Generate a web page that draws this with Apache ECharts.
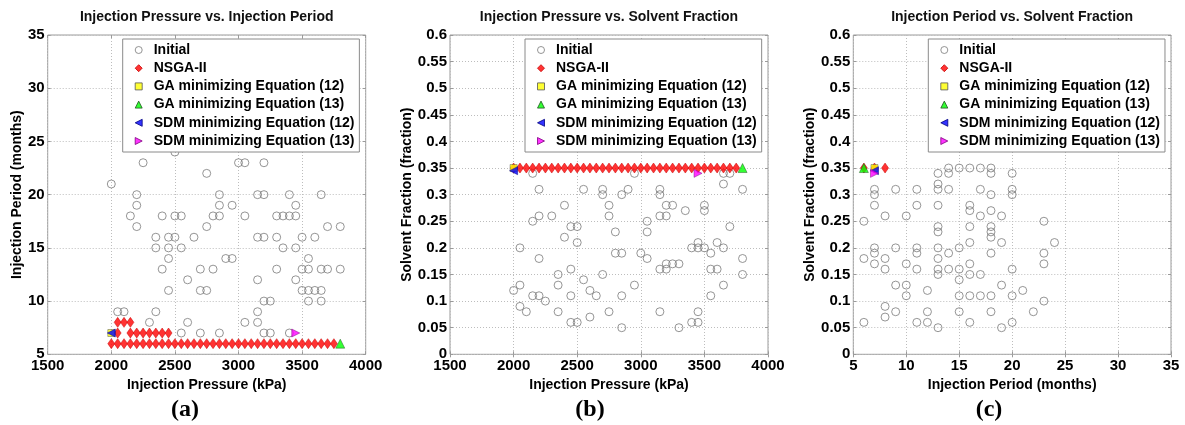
<!DOCTYPE html>
<html>
<head>
<meta charset="utf-8">
<script src="https://cdn.jsdelivr.net/npm/echarts@6/dist/echarts.min.js"></script>
<style>
html,body{margin:0;padding:0;background:#fff;}
#chart{width:1185px;height:425px;}
</style>
</head>
<body>
<div id="chart"></div>
<script>
// ---------- data ----------
var seriesNames = ['Initial', 'NSGA-II', 'GA minimizing Equation (12)', 'GA minimizing Equation (13)', 'SDM minimizing Equation (12)', 'SDM minimizing Equation (13)'];
var panelTitles = ['Injection Pressure vs. Injection Period', 'Injection Pressure vs. Solvent Fraction', 'Injection Period vs. Solvent Fraction'];
var xNames = ['Injection Pressure (kPa)', 'Injection Pressure (kPa)', 'Injection Period (months)'];
var yNames = ['Injection Period (months)', 'Solvent Fraction (fraction)', 'Solvent Fraction (fraction)'];
var captions = ['(a)', '(b)', '(c)'];

// Panel (a): [pressure, period]
var initialA = [
  [2000,21],[2250,23],[2500,24],[2200,20],[2750,22],[2850,20],[3000,23],[3050,23],[3150,20],[3200,20],[3200,23],[3400,20],[3650,20],
  [2200,19],[2850,19],[2950,19],[3450,19],
  [2150,18],[2400,18],[2500,18],[2550,18],[2800,18],[2850,18],[3050,18],[3300,18],[3350,18],[3400,18],[3450,18],
  [2200,17],[2750,17],[3700,17],[3800,17],
  [2350,16],[2450,16],[2500,16],[2650,16],[3150,16],[3200,16],[3300,16],[3500,16],[3600,16],
  [2350,15],[2450,15],[2550,15],[3350,15],[3450,15],
  [2450,14],[2900,14],[2950,14],[3550,14],
  [2400,13],[2700,13],[2800,13],[3300,13],[3500,13],[3550,13],[3650,13],[3700,13],[3800,13],
  [2600,12],[3150,12],[3450,12],
  [2450,11],[2700,11],[2750,11],[3500,11],[3550,11],[3600,11],[3650,11],
  [3200,10],[3250,10],[3550,10],[3650,10],
  [2050,9],[2100,9],[2350,9],[3150,9],
  [2300,8],[2600,8],[3050,8],[3150,8],
  [2550,7],[2700,7],[2850,7],[3200,7],[3250,7],[3400,7]
];
var nsgaA = [
  [2050,8],[2100,8],[2150,8],
  [2050,7],[2150,7],[2200,7],[2250,7],[2300,7],[2350,7],[2400,7],[2450,7],
  [2000,6],[2050,6],[2100,6],[2150,6],[2200,6],[2250,6],[2300,6],[2350,6],[2400,6],[2450,6],
  [2500,6],[2550,6],[2600,6],[2650,6],[2700,6],[2750,6],[2800,6],[2850,6],[2900,6],[2950,6],
  [3000,6],[3050,6],[3100,6],[3150,6],[3200,6],[3250,6],[3300,6],[3350,6],[3400,6],[3450,6],
  [3500,6],[3550,6],[3600,6],[3650,6],[3700,6],[3750,6]
];
var ga12A = [[2000,7]];
var ga13A = [[3800,6]];
var sdm12A = [[2000,7]];
var sdm13A = [[3450,7]];

// Panel (b): [pressure, solvent fraction]
var initialB = [
  [2150,0.34],[2200,0.31],[2550,0.31],[2700,0.31],[2700,0.30],[2850,0.30],[2900,0.31],[2950,0.34],[3150,0.31],[3150,0.30],
  [3650,0.34],[3700,0.34],[3650,0.32],[3800,0.31],
  [2400,0.28],[2750,0.28],[3200,0.28],[3250,0.28],[3500,0.28],
  [3350,0.27],[3500,0.27],
  [2200,0.26],[2300,0.26],[2750,0.26],[3150,0.26],[3200,0.26],
  [2150,0.25],[3050,0.25],
  [2450,0.24],[2500,0.24],[3700,0.24],
  [2800,0.23],[3050,0.23],
  [2400,0.22],
  [2500,0.21],[3450,0.21],[3600,0.21],
  [2050,0.20],[3400,0.20],[3450,0.20],[3500,0.20],[3650,0.20],
  [2800,0.19],[2850,0.19],[3000,0.19],[3550,0.19],
  [2200,0.18],[3050,0.18],[3800,0.18],
  [3200,0.17],[3250,0.17],[3300,0.17],
  [2450,0.16],[3150,0.16],[3200,0.16],[3550,0.16],[3600,0.16],
  [2350,0.15],[2700,0.15],[3800,0.15],
  [2550,0.14],
  [2050,0.13],[2350,0.13],[2950,0.13],[3650,0.13],
  [2000,0.12],[2600,0.12],
  [2150,0.11],[2200,0.11],[2450,0.11],[2650,0.11],[2850,0.11],[3550,0.11],
  [2250,0.10],
  [2050,0.09],
  [2100,0.08],[2350,0.08],[2750,0.08],[3150,0.08],[3450,0.08],
  [2600,0.07],
  [2450,0.06],[2500,0.06],[3400,0.06],[3450,0.06],
  [2850,0.05],[3300,0.05]
];
var nsgaB = [
  [2000,0.35],[2050,0.35],[2100,0.35],[2150,0.35],[2200,0.35],[2250,0.35],[2300,0.35],[2350,0.35],[2400,0.35],[2450,0.35],
  [2500,0.35],[2550,0.35],[2600,0.35],[2650,0.35],[2700,0.35],[2750,0.35],[2800,0.35],[2850,0.35],[2900,0.35],[2950,0.35],
  [3000,0.35],[3050,0.35],[3100,0.35],[3150,0.35],[3200,0.35],[3250,0.35],[3300,0.35],[3350,0.35],[3400,0.35],[3450,0.35],
  [3500,0.35],[3550,0.35],[3600,0.35],[3650,0.35],[3700,0.35],[3750,0.35]
];
var ga12B = [[2000,0.35]];
var ga13B = [[3800,0.35]];
var sdm12B = [[2000,0.345]];
var sdm13B = [[3450,0.34]];

// Panel (c): [period, solvent fraction]
var initialC = [
  [13,0.34],[14,0.35],[14,0.34],[15,0.35],[16,0.35],[17,0.35],[18,0.35],[18,0.34],[20,0.34],[13,0.32],
  [13,0.31],[14,0.31],[7,0.31],[7,0.30],[9,0.31],[11,0.31],[17,0.31],[18,0.30],[20,0.31],[20,0.30],
  [7,0.28],[11,0.28],[13,0.28],[16,0.28],
  [16,0.27],[18,0.27],
  [8,0.26],[10,0.26],[17,0.26],[19,0.26],
  [6,0.25],[23,0.25],
  [13,0.24],[16,0.24],[18,0.24],
  [13,0.23],[18,0.23],
  [18,0.22],
  [16,0.21],[19,0.21],[24,0.21],
  [7,0.20],[9,0.20],[11,0.20],[13,0.20],[15,0.20],
  [7,0.19],[11,0.19],[14,0.19],[18,0.19],[23,0.19],
  [6,0.18],[8,0.18],[13,0.18],
  [7,0.17],[10,0.17],[16,0.17],[23,0.17],
  [8,0.16],[11,0.16],[13,0.16],[14,0.16],[15,0.16],[20,0.16],
  [13,0.15],[16,0.15],[17,0.15],
  [15,0.14],
  [9,0.13],[10,0.13],[19,0.13],
  [12,0.12],[21,0.12],
  [10,0.11],[15,0.11],[16,0.11],[17,0.11],[18,0.11],[20,0.11],
  [23,0.10],
  [8,0.09],
  [9,0.08],[12,0.08],[15,0.08],[18,0.08],[22,0.08],
  [8,0.07],
  [6,0.06],[11,0.06],[12,0.06],[16,0.06],[20,0.06],
  [13,0.05],[19,0.05]
];
var nsgaC = [[6,0.35],[7,0.35],[8,0.35]];
var ga12C = [[7,0.35]];
var ga13C = [[6,0.35]];
var sdm12C = [[7,0.345]];
var sdm13C = [[7,0.34]];

var xTicksAB = {min:1500, max:4000, interval:500};
var xTicksC = {min:5, max:35, interval:5};
var yTicksA = {min:5, max:35, interval:5};
var yTicksBC = {min:0, max:0.6, interval:0.05};

// ---------- layout/styling ----------
var FONT = 'Liberation Sans, Arial, sans-serif';
var grids = [
  {left:47.7, top:35, width:318, height:319.3},
  {left:450, top:35, width:318, height:319.3},
  {left:853.3, top:35, width:317.7, height:319.3}
];
var legendLeft = [122.7, 525, 928.3];
var yNameGap = [23, 34, 35];
var captionX = [185, 590, 989];
var xTicks = [xTicksAB, xTicksAB, xTicksC];
var yTicks = [yTicksA, yTicksBC, yTicksBC];
var panelData = [
  [initialA, nsgaA, ga12A, ga13A, sdm12A, sdm13A],
  [initialB, nsgaB, ga12B, ga13B, sdm12B, sdm13B],
  [initialC, nsgaC, ga12C, ga13C, sdm12C, sdm13C]
];
var seriesStyle = [
  {symbol:'circle', symbolSize:8, symbolRotate:0, itemStyle:{color:'rgba(0,0,0,0)', borderColor:'#7a7a7a', borderWidth:1}},
  {symbol:'diamond', symbolSize:[7,10], symbolRotate:0, itemStyle:{color:'#ff0000', borderColor:'#c80000', borderWidth:0.6}},
  {symbol:'rect', symbolSize:7, symbolRotate:0, itemStyle:{color:'#ffff00', borderColor:'#555', borderWidth:0.6}},
  {symbol:'triangle', symbolSize:9, symbolRotate:0, itemStyle:{color:'#00ff00', borderColor:'#225522', borderWidth:0.6}},
  {symbol:'triangle', symbolSize:8, symbolRotate:90, itemStyle:{color:'#0000ff', borderColor:'#000080', borderWidth:0.6}},
  {symbol:'triangle', symbolSize:8, symbolRotate:-90, itemStyle:{color:'#ff00ff', borderColor:'#800080', borderWidth:0.6}}
];
// legend icons (left / right pointing triangles drawn as paths)
var legendIcons = [null, null, null, null, 'path://M10,0 L10,10 L0,5 Z', 'path://M0,0 L10,5 L0,10 Z'];
function plainNum(v) { return String(v); }

var option = {
  animation: false,
  backgroundColor: '#fff',
  title: [], grid: [], xAxis: [], yAxis: [], legend: [], series: [],
  graphic: []
};

for (var p = 0; p < 3; p++) {
  option.title.push({
    text: panelTitles[p], left: grids[p].left + grids[p].width/2, top: 10, textAlign: 'center', padding: 0,
    textStyle: {fontFamily: FONT, fontSize: 14, fontWeight: 'bold', color: '#111'}
  });
  option.grid.push({
    left: grids[p].left, top: grids[p].top, width: grids[p].width, height: grids[p].height,
    containLabel: false, outerBoundsMode: 'none',
    show: true, borderColor: '#9a9a9a', borderWidth: 1, backgroundColor: '#fff'
  });
  option.xAxis.push({
    type: 'value', gridIndex: p, min: xTicks[p].min, max: xTicks[p].max, interval: xTicks[p].interval,
    name: xNames[p], nameLocation: 'middle', nameGap: 19,
    nameTextStyle: {fontFamily: FONT, fontSize: 14, fontWeight: 'bold', color: '#000'},
    axisLine: {show: false}, axisTick: {show: true, inside: true, length: 3, lineStyle: {color: '#9a9a9a'}},
    axisLabel: {margin: 4, formatter: plainNum, fontFamily: FONT, fontSize: 15, fontWeight: 'bold', color: '#000'},
    splitLine: {show: true, lineStyle: {color: '#bdbdbd', type: [1, 2], width: 1}}
  });
  option.yAxis.push({
    type: 'value', gridIndex: p, min: yTicks[p].min, max: yTicks[p].max, interval: yTicks[p].interval,
    name: yNames[p], nameLocation: 'middle', nameGap: yNameGap[p],
    nameTextStyle: {fontFamily: FONT, fontSize: 14, fontWeight: 'bold', color: '#000'},
    axisLine: {show: false}, axisTick: {show: true, inside: true, length: 3, lineStyle: {color: '#9a9a9a'}},
    axisLabel: {margin: 3, formatter: plainNum, fontFamily: FONT, fontSize: 15, fontWeight: 'bold', color: '#000'},
    splitLine: {show: true, lineStyle: {color: '#bdbdbd', type: [1, 2], width: 1}}
  });
  var legendData = seriesNames.map(function (n, i) {
    return legendIcons[i] ? {name: n, icon: legendIcons[i]} : {name: n};
  });
  option.legend.push({
    orient: 'vertical', left: legendLeft[p], top: 39,
    data: legendData,
    itemWidth: 7, itemHeight: 7, itemGap: 0.2,
    padding: [2, 5, 2, 12],
    borderColor: '#8a8a8a', borderWidth: 1, backgroundColor: '#fff',
    selectedMode: false, symbolRotate: 0,
    itemStyle: {borderWidth: 1},
    textStyle: {fontFamily: FONT, fontSize: 14, fontWeight: 'bold', color: '#000', lineHeight: 18, padding: [0, 0, 0, 6.5]}
  });
  for (var s = 0; s < 6; s++) {
    var st = seriesStyle[s];
    option.series.push({
      type: 'scatter', name: seriesNames[s], xAxisIndex: p, yAxisIndex: p,
      data: panelData[p][s], symbol: st.symbol, symbolSize: st.symbolSize, symbolRotate: st.symbolRotate,
      itemStyle: st.itemStyle, emphasis: {disabled: true}, z: 2 + s * 0.01
    });
  }
  option.graphic.push({
    type: 'text', x: captionX[p], y: 410,
    style: {text: captions[p], font: 'bold 24px "Liberation Serif", "Times New Roman", serif', fill: '#000', align: 'center', verticalAlign: 'middle'}
  });
}
// mirrored ticks on top / right (MATLAB box)
for (var q = 0; q < 3; q++) {
  option.xAxis.push({
    type: 'value', gridIndex: q, position: 'top', min: xTicks[q].min, max: xTicks[q].max, interval: xTicks[q].interval,
    axisLine: {show: false}, axisLabel: {show: false}, splitLine: {show: false},
    axisTick: {show: true, inside: true, length: 3, lineStyle: {color: '#9a9a9a'}}
  });
  option.yAxis.push({
    type: 'value', gridIndex: q, position: 'right', min: yTicks[q].min, max: yTicks[q].max, interval: yTicks[q].interval,
    axisLine: {show: false}, axisLabel: {show: false}, splitLine: {show: false},
    axisTick: {show: true, inside: true, length: 3, lineStyle: {color: '#9a9a9a'}}
  });
}

var chart = echarts.init(document.getElementById('chart'), null, {renderer: 'canvas'});
chart.setOption(option);
</script>
</body>
</html>
